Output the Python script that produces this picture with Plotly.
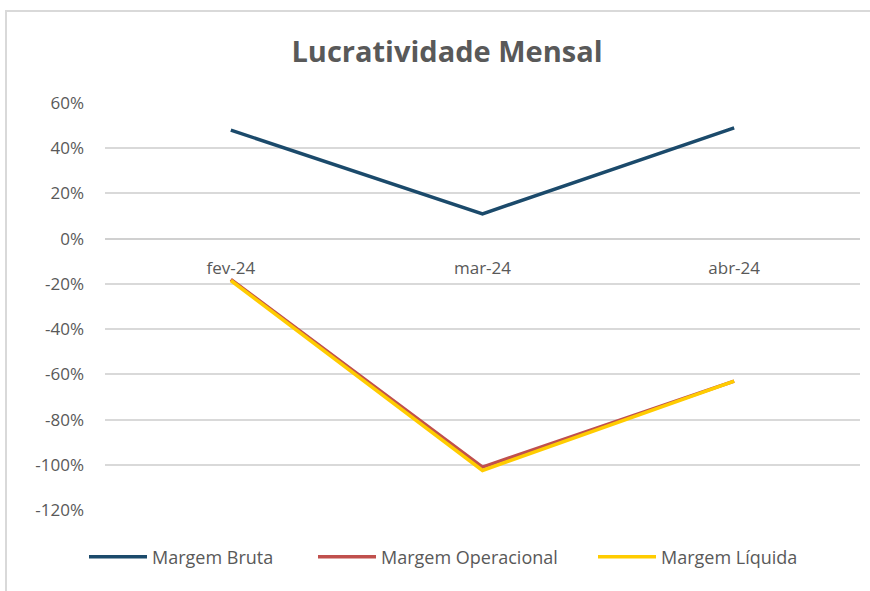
import plotly.graph_objects as go

categories = ["fev-24", "mar-24", "abr-24"]
margem_bruta = [0.48, 0.11, 0.49]
margem_operacional = [-0.18, -1.01, -0.63]
margem_liquida = [-0.185, -1.025, -0.63]
tick_vals = [0.6, 0.4, 0.2, 0.0, -0.2, -0.4, -0.6, -0.8, -1.0, -1.2]
tick_text = ["60%", "40%", "20%", "0%", "-20%", "-40%", "-60%", "-80%", "-100%", "-120%"]

L, R, T, B = 105, 10, 103, 81
W, H = 870, 591
pw, ph = W - L - R, H - T - B

fig = go.Figure()
fig.add_trace(go.Scatter(x=categories, y=margem_bruta, name="Margem Bruta", mode="lines",
                         line=dict(color="#1B4A6B", width=3.5), legend="legend"))
fig.add_trace(go.Scatter(x=categories, y=margem_operacional, name="Margem Operacional", mode="lines",
                         line=dict(color="#C0504D", width=3.5), legend="legend2"))
fig.add_trace(go.Scatter(x=categories, y=margem_liquida, name="Margem Líquida", mode="lines",
                         line=dict(color="#FFCC00", width=3.5), legend="legend3"))

leg_y = -(557 - (H - B)) / ph
leg_common = dict(orientation="h", y=leg_y, yanchor="middle", xanchor="left",
                  font=dict(size=18, color="#595959"), itemwidth=58,
                  bgcolor="rgba(0,0,0,0)")

fig.update_layout(
    width=W, height=H,
    margin=dict(l=L, r=R, t=T, b=B, autoexpand=False),
    paper_bgcolor="white", plot_bgcolor="white",
    font=dict(family="Open Sans, Liberation Sans, sans-serif", color="#595959", size=17),
    title=dict(text="<b>Lucratividade Mensal</b>", x=447 / W, xanchor="center", xref="container",
               y=1 - 52 / H, yanchor="middle", yref="container",
               font=dict(size=29, color="#595959", family="Open Sans, sans-serif")),
    showlegend=True,
    legend=dict(leg_common, x=(84 - L) / pw),
    legend2=dict(leg_common, x=(313 - L) / pw),
    legend3=dict(leg_common, x=(593 - L) / pw),
    xaxis=dict(type="category", range=[-0.5, 2.5], anchor="free", position=1.2 / 1.8,
               showline=True, linecolor="#D0D0D0", linewidth=1.5, automargin=False,
               showgrid=False, ticks="", ticklabelstandoff=14,
               tickfont=dict(size=17, color="#595959"), zeroline=False),
    yaxis=dict(range=[-1.2, 0.6], tickvals=tick_vals, ticktext=tick_text,
               showgrid=True, gridcolor="#D9D9D9", gridwidth=1.5, zeroline=False, automargin=False,
               showline=False, ticks="", tickfont=dict(size=17, color="#595959"),
               ticklabelstandoff=20),
    shapes=[dict(type="rect", xref="paper", yref="paper",
                 x0=(6 - L) / pw, x1=(880 - L) / pw,
                 y0=-(600 - T - ph) / ph, y1=(H - B - 11) / ph,
                 line=dict(color="#D9D9D9", width=2), fillcolor="rgba(0,0,0,0)", layer="below")],
)

fig.write_html("out.html", config={"displayModeBar": False},
               post_script="document.body.style.margin='0';document.body.style.overflow='hidden';")
